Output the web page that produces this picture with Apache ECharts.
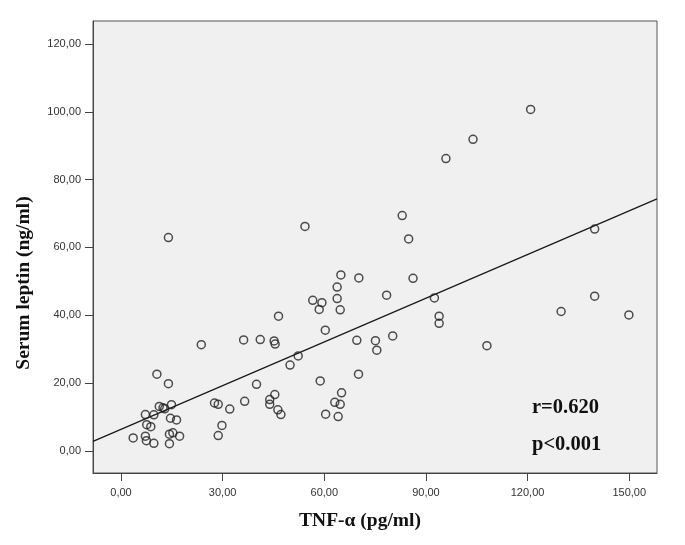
<!DOCTYPE html>
<html>
<head>
<meta charset="utf-8">
<script src="https://cdn.jsdelivr.net/npm/echarts@6/dist/echarts.min.js"></script>
<style>
html,body{margin:0;padding:0;background:#fff;}
#c{width:685px;height:545px;}
</style>
</head>
<body>
<div id="c"></div>
<script>
// TNF-α (pg/ml)
const tnf = [3.6, 7.2, 7.6, 7.2, 7.5, 8.8, 9.7, 9.7, 10.6, 11.3, 12.4, 12.9, 14.0, 14.0, 14.9, 14.6, 16.4, 14.3, 15.3, 14.3, 17.3,
  23.7, 27.6, 28.7, 28.7, 29.8, 32.1, 36.2, 36.5, 40.0, 41.1, 43.9, 43.9, 45.2, 45.5, 45.4, 46.3, 46.5, 47.2, 49.9,
  52.3, 54.3, 56.6, 58.5, 59.3, 58.8, 60.3, 60.4, 63.8, 63.8, 64.7, 64.9, 63.1, 64.7, 65.1, 64.1, 69.6, 70.2, 70.1,
  75.1, 75.5, 78.4, 80.2, 83.0, 84.9, 86.2, 92.5, 93.9, 93.9, 95.9, 103.9, 108.0, 120.9, 129.9, 139.8, 139.8, 149.9];
// Serum leptin (ng/ml)
const leptin = [3.8, 10.7, 7.7, 4.3, 3.0, 7.1, 2.2, 10.6, 22.6, 13.1, 12.7, 12.4, 62.9, 19.8, 13.6, 9.6, 9.1, 4.9, 5.3, 2.1, 4.3,
  31.3, 14.1, 13.7, 4.5, 7.5, 12.3, 32.7, 14.6, 19.6, 32.8, 15.1, 13.7, 32.4, 31.5, 16.6, 12.1, 39.7, 10.7, 25.3,
  28.0, 66.2, 44.4, 41.7, 43.7, 20.6, 35.6, 10.8, 48.3, 44.9, 41.6, 51.9, 14.3, 13.7, 17.1, 10.1, 32.6, 51.0, 22.6,
  32.5, 29.7, 45.9, 33.9, 69.4, 62.5, 50.9, 45.1, 39.7, 37.6, 86.2, 91.9, 31.0, 100.7, 41.1, 65.4, 45.6, 40.1];
// fitted line end points
const fitX = [-8.26, 158.2];
const fitY = [2.8, 74.3];
// tick labels
const xTicks = [0, 30, 60, 90, 120, 150];
const yTicks = [0, 20, 40, 60, 80, 100, 120];
const xTitle = 'TNF-α (pg/ml)';
const yTitle = 'Serum leptin (ng/ml)';
const statR = 'r=0.620';
const statP = 'p<0.001';

const fmt = v => v.toFixed(2).replace('.', ',');
const chart = echarts.init(document.getElementById('c'), null, {renderer: 'canvas'});
const pts = tnf.map((x, i) => [x, leptin[i]]);
chart.setOption({
  backgroundColor: '#ffffff',
  animation: false,
  grid: {left: 93, right: 28, top: 21, bottom: 72, show: true, backgroundColor: '#f0f0f0', borderColor: '#555', borderWidth: 1},
  xAxis: {
    type: 'value', min: -8.26, max: 158.2,
    axisLine: {show: true, onZero: false, lineStyle: {color: '#444', width: 1}},
    axisTick: {show: true, length: 8, customValues: xTicks, lineStyle: {color: '#444'}},
    splitLine: {show: false},
    axisLabel: {customValues: xTicks, formatter: fmt, color: '#333', fontFamily: 'Liberation Sans', fontSize: 11, margin: 14},
  },
  yAxis: {
    type: 'value', min: -6.55, max: 126.8,
    axisLine: {show: true, onZero: false, lineStyle: {color: '#444', width: 1}},
    axisTick: {show: true, length: 8, customValues: yTicks, lineStyle: {color: '#444'}},
    splitLine: {show: false},
    axisLabel: {customValues: yTicks, formatter: fmt, color: '#333', fontFamily: 'Liberation Sans', fontSize: 11, margin: 12},
  },
  graphic: [
    {type: 'text', x: 360, y: 521, style: {text: xTitle, font: 'bold 19.5px "Liberation Serif"', fill: '#111', align: 'center', verticalAlign: 'middle'}},
    {type: 'text', x: 24, y: 283, rotation: Math.PI / 2, style: {text: yTitle, font: 'bold 19.5px "Liberation Serif"', fill: '#111', align: 'center', verticalAlign: 'middle'}},
    {type: 'text', x: 532, y: 408, style: {text: statR, font: 'bold 20.5px "Liberation Serif"', fill: '#111', align: 'left', verticalAlign: 'middle'}},
    {type: 'text', x: 532, y: 445, style: {text: statP, font: 'bold 20.5px "Liberation Serif"', fill: '#111', align: 'left', verticalAlign: 'middle'}}
  ],
  series: [
    {
      type: 'line', data: fitX.map((x, i) => [x, fitY[i]]), symbol: 'none', silent: true,
      lineStyle: {color: '#1a1a1a', width: 1.3}, z: 2
    },
    {
      type: 'scatter', data: pts, symbol: 'circle', symbolSize: 8,
      itemStyle: {color: 'rgba(0,0,0,0)', borderColor: '#222', borderWidth: 1.5}, z: 3
    }
  ]
});
</script>
</body>
</html>
